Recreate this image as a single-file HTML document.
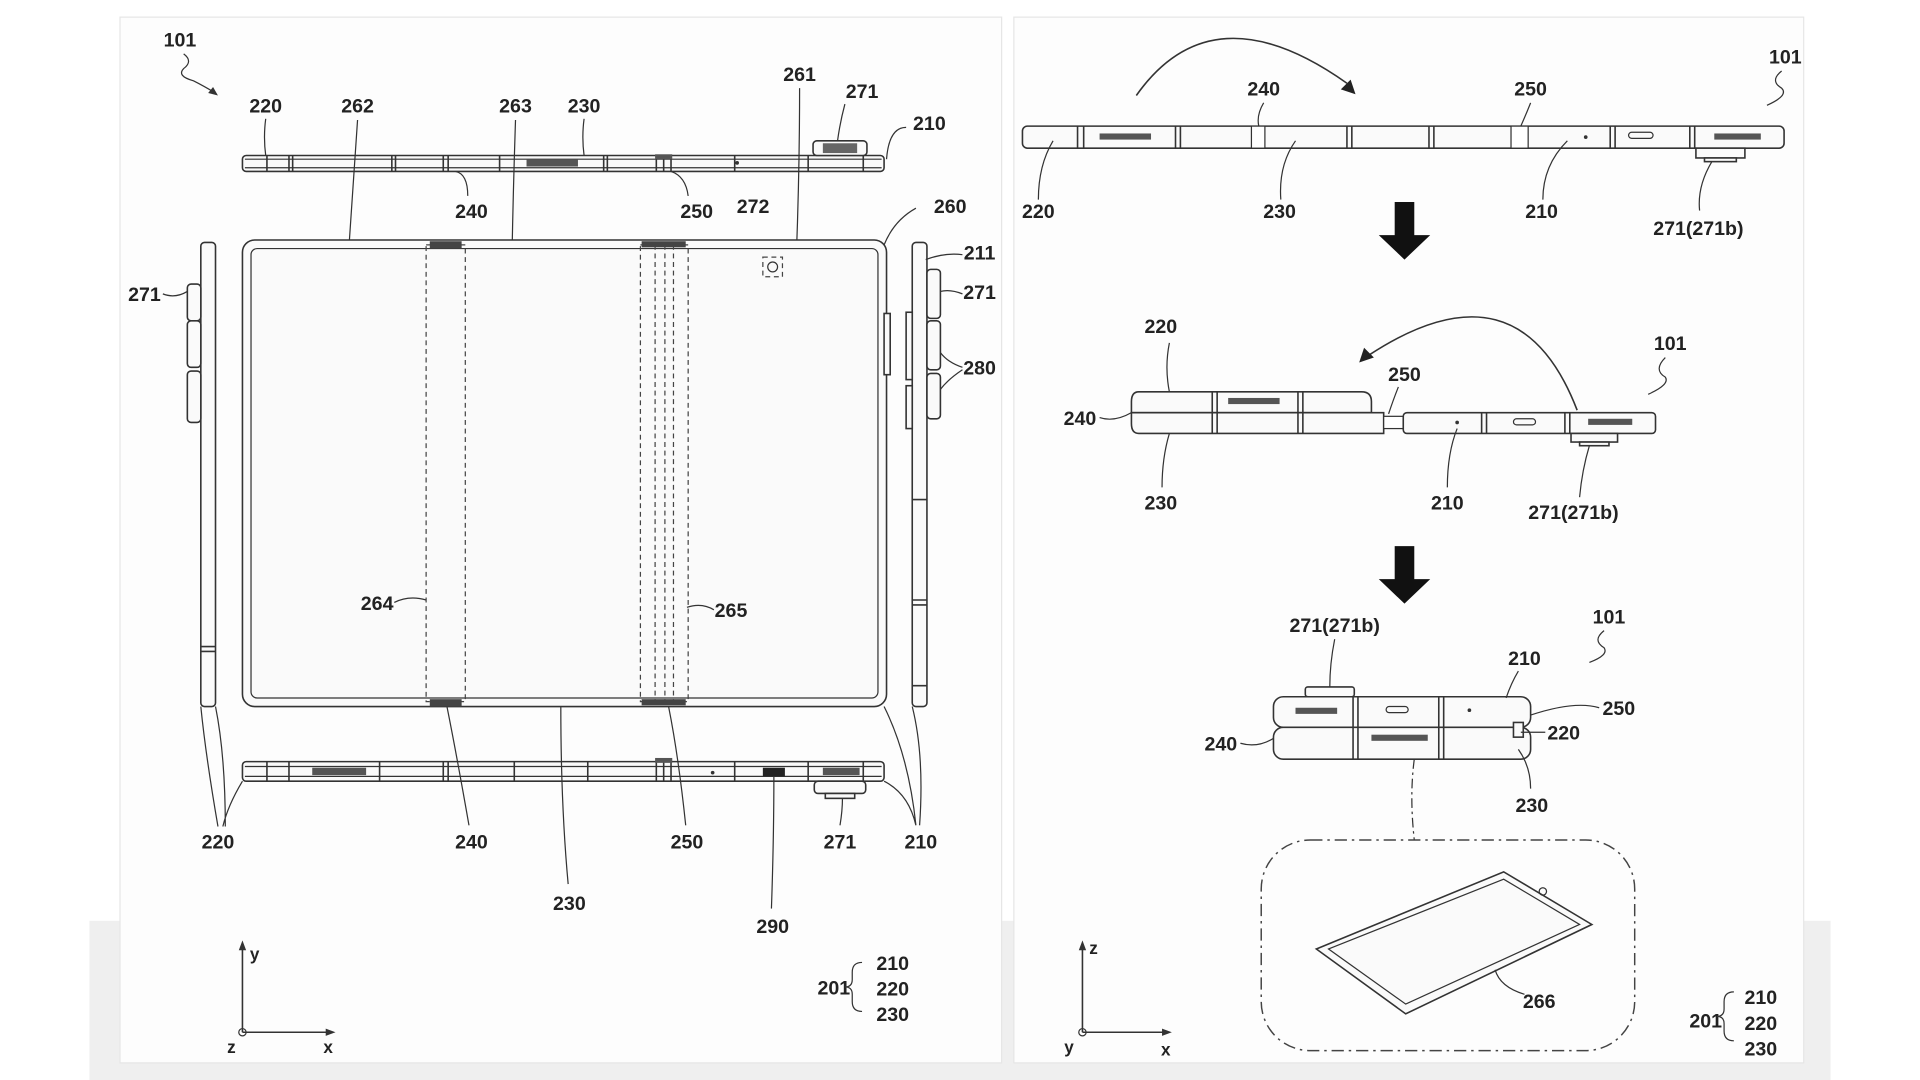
<!DOCTYPE html>
<html><head><meta charset="utf-8"><style>
html,body{margin:0;padding:0;background:#fff;}
svg{display:block;}
text{font-family:"Liberation Sans Narrow","Liberation Sans",sans-serif;font-size:16px;fill:#222;font-weight:bold;text-anchor:middle;}
.l{fill:none;stroke:#333;stroke-width:1.3;}
.t{fill:none;stroke:#333;stroke-width:1;}
.d{fill:none;stroke:#444;stroke-width:1;stroke-dasharray:4 3;}
.b{fill:#fafafa;stroke:#333;stroke-width:1.3;}
</style></head><body>
<svg width="1920" height="1080" viewBox="0 0 1568 882" preserveAspectRatio="none">
<rect x="0" y="0" width="1568" height="882" fill="#fff"/>
<rect x="73" y="752" width="1422" height="130" fill="#efefef"/>
<rect x="98" y="14" width="720" height="854" fill="#fdfdfd" stroke="#e6e6e6"/>
<rect x="828" y="14" width="645" height="854" fill="#fdfdfd" stroke="#e6e6e6"/>

<!-- LEFT PANEL -->
<text x="147" y="38">101</text>
<path class="t" d="M150 44 q8 6 0 12 q-6 6 8 10 q8 4 18 10"/><path d="M178 78 l-8 -2 l4 -5z" fill="#333"/>
<!-- top strip -->
<rect class="b" x="198" y="127" width="524" height="13" rx="3"/>
<line class="t" x1="200" y1="130" x2="720" y2="130"/><line class="t" x1="200" y1="137" x2="720" y2="137"/>
<g class="l"><path d="M218 127v13M236 127v13M239 127v13M320 127v13M323 127v13M362 127v13M366 127v13M408 127v13M493 127v13M496 127v13M536 127v13M542 127v13M548 127v13M600 127v13M660 127v13M705 127v13"/></g>
<rect x="430" y="130" width="42" height="6" fill="#555"/>
<rect class="b" x="664" y="115" width="44" height="12" rx="3"/><rect x="672" y="117" width="28" height="8" fill="#666"/>
<rect x="535" y="126" width="14" height="4" fill="#555"/>
<circle cx="602" cy="133" r="1.5" fill="#333"/>
<text x="217" y="92">220</text><text x="292" y="92">262</text><text x="421" y="92">263</text><text x="477" y="92">230</text>
<text x="653" y="66">261</text><text x="704" y="80">271</text><text x="759" y="106">210</text>
<text x="385" y="178">240</text><text x="569" y="178">250</text><text x="615" y="174">272</text><text x="776" y="174">260</text>
<path class="t" d="M217 97 q-2 15 0 30M477 97 q-2 15 0 30M690 85 q-4 15 -6 30M740 104 q-14 0 -16 26M372 140 q10 2 10 20M548 140 q12 4 14 20"/>
<path class="t" d="M292 98 q-4 60 -8 118M421 98 q-2 60 -3 118M653 72 q0 70 -3 146M748 170 q-18 10 -26 30"/>
<!-- main display -->
<rect class="b" x="198" y="196" width="526" height="381" rx="10" fill="#fdfdfd"/>
<rect class="t" x="205" y="203" width="512" height="367" rx="5"/>
<rect class="d" x="348" y="200" width="32" height="373"/>
<rect class="d" x="523" y="200" width="39" height="373"/>
<path class="d" d="M535 200v373M543 200v373M550 200v373"/>
<rect x="351" y="197" width="26" height="6" fill="#444"/><rect x="524" y="197" width="36" height="5" fill="#444"/>
<rect x="351" y="571" width="26" height="6" fill="#444"/><rect x="524" y="571" width="36" height="5" fill="#444"/>
<rect class="d" x="623" y="210" width="16" height="16"/><circle class="t" cx="631" cy="218" r="4"/>
<text x="308" y="498">264</text><path class="t" d="M322 492 q12 -6 26 -2"/>
<text x="597" y="504">265</text><path class="t" d="M583 498 q-10 -6 -22 -2"/>
<!-- left side strip -->
<rect class="b" x="164" y="198" width="12" height="379" rx="3"/>
<path class="l" d="M164 528h12M164 532h12"/>
<rect class="b" x="153" y="232" width="11" height="30" rx="3"/><rect class="b" x="153" y="262" width="11" height="38" rx="3"/><rect class="b" x="153" y="303" width="11" height="42" rx="3"/>
<text x="118" y="246">271</text><path class="t" d="M133 240 q10 4 20 -2"/>
<!-- right side strip -->
<rect class="b" x="745" y="198" width="12" height="379" rx="3"/>
<path class="l" d="M745 408h12M745 490h12M745 494h12M745 560h12"/>
<rect class="b" x="757" y="220" width="11" height="40" rx="3"/><rect class="b" x="757" y="262" width="11" height="40" rx="3"/><rect class="b" x="757" y="305" width="11" height="37" rx="3"/>
<rect class="b" x="740" y="255" width="5" height="55"/><rect class="b" x="740" y="315" width="5" height="35"/>
<rect class="b" x="722" y="256" width="5" height="50"/>
<text x="800" y="212">211</text><text x="800" y="244">271</text><text x="800" y="306">280</text>
<path class="t" d="M786 208 q-14 -2 -30 4M786 240 q-10 -4 -18 -2M786 300 q-12 -4 -18 -12M786 302 q-12 8 -18 16"/>
<!-- bottom strip -->
<rect class="b" x="198" y="622" width="524" height="16" rx="3"/>
<line class="t" x1="200" y1="626" x2="720" y2="626"/><line class="t" x1="200" y1="634" x2="720" y2="634"/>
<g class="l"><path d="M218 622v16M236 622v16M310 622v16M362 622v16M366 622v16M420 622v16M480 622v16M536 622v16M542 622v16M548 622v16M600 622v16M660 622v16M705 622v16"/></g>
<rect x="255" y="627" width="44" height="6" fill="#555"/><rect x="623" y="627" width="18" height="7" fill="#222"/>
<rect x="672" y="627" width="30" height="6" fill="#555"/>
<rect class="b" x="665" y="638" width="42" height="10" rx="3"/><rect class="b" x="674" y="648" width="24" height="4"/>
<rect x="535" y="619" width="14" height="4" fill="#555"/>
<circle cx="582" cy="631" r="1.5" fill="#333"/>
<path class="t" d="M176 577 q8 40 8 98M164 577 q4 40 14 98M198 638 q-12 20 -16 37M365 577 q8 40 18 97M546 577 q8 40 14 97M458 577 q0 80 6 145M632 634 q0 50 -2 108M688 652 q0 10 -2 22M722 577 q20 40 26 97M745 577 q10 40 6 97M722 638 q20 10 26 36"/>
<text x="178" y="693">220</text><text x="385" y="693">240</text><text x="561" y="693">250</text><text x="686" y="693">271</text><text x="752" y="693">210</text>
<text x="465" y="743">230</text><text x="631" y="762">290</text>
<!-- axes left -->
<path class="l" d="M198 843V772M198 843H270"/><path d="M198 768l-3 8h6z M274 843l-8 -3v6z" fill="#333"/>
<circle class="t" cx="198" cy="843" r="3"/>
<text x="208" y="784" style="font-size:14px">y</text><text x="268" y="860" style="font-size:14px">x</text><text x="189" y="860" style="font-size:14px">z</text>
<text x="681" y="812">201</text><path class="t" d="M704 786 q-8 0 -8 8 v6 q0 6 -6 6 q6 0 6 6 v6 q0 8 8 8"/>
<text x="729" y="792">210</text><text x="729" y="813">220</text><text x="729" y="834">230</text>

<!-- RIGHT PANEL -->
<path class="l" d="M928 78 Q990 -10 1100 68"/><path d="M1107 77 l-12 -4 l8 -8z" fill="#222"/>
<rect class="b" x="835" y="103" width="622" height="18" rx="4"/>
<g class="l"><path d="M880 103v18M885 103v18M960 103v18M964 103v18M1100 103v18M1104 103v18M1167 103v18M1171 103v18M1315 103v18M1319 103v18M1380 103v18M1384 103v18"/></g>
<rect x="1022" y="103" width="11" height="18" fill="#fff" stroke="#333"/>
<rect x="1234" y="103" width="14" height="18" fill="#fff" stroke="#333"/>
<rect x="898" y="109" width="42" height="5" fill="#555"/><rect x="1400" y="109" width="38" height="5" fill="#555"/>
<rect class="t" x="1330" y="108" width="20" height="5" rx="2.5"/><circle cx="1295" cy="112" r="1.5" fill="#333"/>
<rect class="b" x="1385" y="121" width="40" height="8"/><rect class="b" x="1392" y="129" width="26" height="3"/>
<text x="1032" y="78">240</text><text x="1250" y="78">250</text><text x="1458" y="52">101</text>
<path class="t" d="M1032 84 q-6 10 -4 19M1250 84 q-4 10 -8 19M1455 58 q-10 8 0 14 q6 6 -12 14"/>
<text x="848" y="178">220</text><text x="1045" y="178">230</text><text x="1259" y="178">210</text><text x="1387" y="192">271(271b)</text>
<path class="t" d="M860 115 q-12 20 -12 48M1058 115 q-14 20 -12 48M1280 115 q-20 20 -20 48M1398 132 q-12 20 -10 40"/>
<path d="M1139 165h16v27h13l-21 20l-21 -20h13z" fill="#111"/>
<!-- strip 2 -->
<path class="b" d="M930 320 H1112 q8 0 8 8 V337 H924 V328 q0 -8 6 -8z"/>
<path class="b" d="M924 337 H1130 V354 H930 q-6 0 -6 -8z"/>
<g class="l"><path d="M990 320v34M994 320v34M1060 320v34M1064 320v34"/></g>
<rect x="1003" y="325" width="42" height="5" fill="#555"/>
<rect x="1130" y="340" width="16" height="10" fill="#fff" stroke="#333"/>
<rect class="b" x="1146" y="337" width="206" height="17" rx="3"/>
<path class="l" d="M1210 337v17M1214 337v17M1278 337v17M1282 337v17"/>
<rect class="t" x="1236" y="342" width="18" height="5" rx="2.5"/><circle cx="1190" cy="345" r="1.5" fill="#333"/>
<rect x="1297" y="342" width="36" height="5" fill="#555"/>
<rect class="b" x="1283" y="354" width="38" height="7"/><rect class="b" x="1290" y="361" width="24" height="3"/>
<path class="l" d="M1288 335 Q1240 210 1118 290"/><path d="M1110 296 l4 -12 l8 8z" fill="#222"/>
<text x="948" y="272">220</text><text x="1147" y="311">250</text><text x="1364" y="286">101</text><text x="882" y="347">240</text>
<text x="948" y="416">230</text><text x="1182" y="416">210</text><text x="1285" y="424">271(271b)</text>
<path class="t" d="M955 280 q-4 20 0 40M1142 316 q-4 10 -8 22M1360 292 q-10 10 0 16 q4 6 -14 14M898 341 q12 4 26 -4M955 354 q-6 20 -6 44M1190 350 q-8 20 -8 48M1298 364 q-6 20 -8 42"/>
<path d="M1139 446h16v27h13l-21 20l-21 -20h13z" fill="#111"/>
<!-- stack 3 -->
<rect class="b" x="1040" y="569" width="210" height="25" rx="8"/>
<rect class="b" x="1040" y="594" width="210" height="26" rx="8"/>
<g class="l"><path d="M1105 569v51M1109 569v51M1175 569v51M1179 569v51"/></g>
<rect x="1058" y="578" width="34" height="5" fill="#555"/><rect x="1120" y="600" width="46" height="5" fill="#555"/>
<rect class="t" x="1132" y="577" width="18" height="5" rx="2.5"/><circle cx="1200" cy="580" r="1.5" fill="#333"/>
<rect class="b" x="1066" y="561" width="40" height="8" rx="2"/>
<rect class="b" x="1236" y="590" width="8" height="12"/>
<text x="1090" y="516">271(271b)</text><text x="1314" y="509">101</text><text x="1245" y="543">210</text>
<text x="1322" y="584">250</text><text x="1277" y="604">220</text><text x="997" y="613">240</text><text x="1251" y="663">230</text>
<path class="t" d="M1090 522 q-4 20 -4 39M1310 515 q-10 8 0 14 q4 6 -12 12M1240 548 q-6 10 -10 22M1306 578 q-20 -6 -56 6M1262 598 q-10 0 -20 0M1013 607 q14 4 27 -4M1240 612 q10 14 10 32"/>
<path class="t" d="M1155 620 q-4 30 0 66" stroke-dasharray="8 3 2 3"/>
<rect x="1030" y="686" width="305" height="172" rx="40" fill="none" stroke="#444" stroke-width="1.2" stroke-dasharray="10 4 2 4"/>
<path class="b" d="M1075 775 L1228 712 L1300 755 L1148 828 Z" fill="#fff"/>
<path class="t" d="M1085 775 L1228 718 L1290 755 L1148 820 Z"/>
<circle class="t" cx="1260" cy="728" r="3"/>
<text x="1257" y="823">266</text><path class="t" d="M1245 812 q-20 -6 -24 -20"/>
<!-- axes right -->
<path class="l" d="M884 843V772M884 843H953"/><path d="M884 768l-3 8h6z M957 843l-8 -3v6z" fill="#333"/>
<circle class="t" cx="884" cy="843" r="3"/>
<text x="893" y="779" style="font-size:14px">z</text><text x="952" y="862" style="font-size:14px">x</text><text x="873" y="860" style="font-size:14px">y</text>
<text x="1393" y="839">201</text><path class="t" d="M1416 810 q-8 0 -8 8 v6 q0 6 -6 6 q6 0 6 6 v6 q0 8 8 8"/>
<text x="1438" y="820">210</text><text x="1438" y="841">220</text><text x="1438" y="862">230</text>
</svg>
</body></html>
